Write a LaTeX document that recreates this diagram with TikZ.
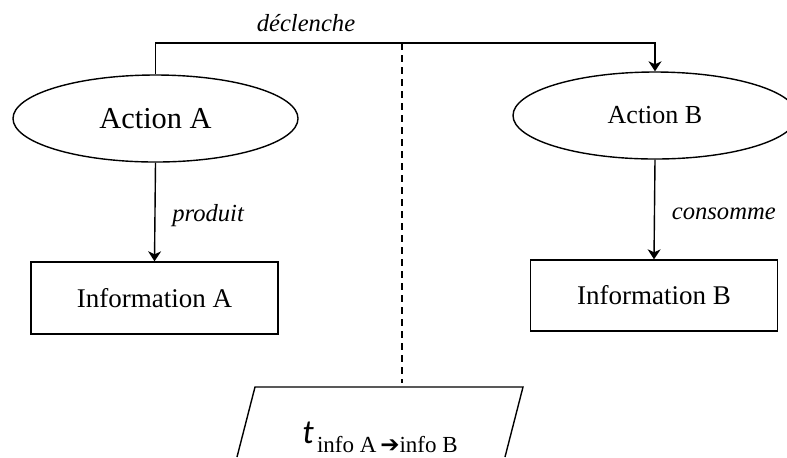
\documentclass[tikz,border=0pt]{standalone}
\usepackage{fontspec}
\setmainfont{Liberation Serif}
\newfontfamily\tfont{Carlito}
\newfontfamily\symfont{DejaVu Sans}
\usetikzlibrary{arrows.meta,shapes.geometric}
\begin{document}
\begin{tikzpicture}[x=0.5pt,y=-0.5pt,line width=0.7pt,
  >={Stealth[length=5pt,width=6.5pt,inset=1.5pt]},
  action/.style={ellipse,draw,inner sep=0pt},
  infobox/.style={rectangle,draw,inner sep=0pt,minimum width=123.5pt,minimum height=36pt,font=\fontsize{13.5}{16}\selectfont},
  verb/.style={font=\fontsize{12.3}{14}\selectfont\itshape},
  sep/.style={dashed,dash pattern=on 3.5pt off 2.5pt}]
\useasboundingbox (0,0) rectangle (787,457);
\clip (0,0) rectangle (787,457);

\node[action,minimum width=142.5pt,minimum height=43.5pt,font=\fontsize{15.2}{18}\selectfont] (actA) at (155.5,118.5) {\raisebox{-2pt}{Action A}};
\node[action,minimum width=142pt,minimum height=43.5pt,font=\fontsize{13}{16}\selectfont] (actB) at (655,115.5) {Action B};
\node[infobox] (infoA) at (154.5,298) {Information A};
\node[infobox,minimum height=35.5pt] (infoB) at (654,295.5) {Information B};

\coordinate (paraTop) at (402,387);
\draw (237,457) -- (255,387) -- (523,387) -- (505,457);
\node (tinfo) at (380,437) {{\tfont\itshape\fontsize{17}{20}\selectfont t}\,\raisebox{-4.5pt}{\fontsize{11.5}{13}\selectfont info A\,{\symfont\bfseries ➔}info B}};

\coordinate (split) at (402,43);
\draw[->] (actA.north) |- (split) -| (actB.north);
\node[verb] (decl) at (306,23) {déclenche};
\draw[sep] (split) -- ([yshift=2pt]paraTop);

\draw[->] (actA.south) -- (infoA.north) node[midway,right=5pt,yshift=-2pt,verb] {produit};
\draw[->] (actB.south) -- (infoB.north) node[midway,right=5pt,yshift=-2pt,verb] {consomme};
\end{tikzpicture}
\end{document}
